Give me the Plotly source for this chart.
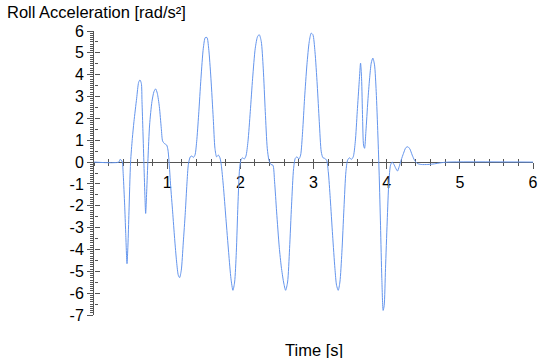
import plotly.graph_objects as go

# Time [s]
t = [0.0, 0.34, 0.355, 0.373, 0.387, 0.40, 0.419, 0.433, 0.451, 0.464, 0.478, 0.50,
     0.524, 0.546, 0.583, 0.61, 0.628, 0.647, 0.656, 0.669, 0.683, 0.697, 0.706, 0.72,
     0.738, 0.76, 0.792, 0.82, 0.842, 0.865, 0.893, 0.92, 0.938, 0.965, 0.993, 1.011,
     1.029, 1.047, 1.075, 1.102, 1.129, 1.152, 1.17, 1.193, 1.22, 1.248, 1.27, 1.29,
     1.316, 1.339, 1.357, 1.38, 1.403, 1.43, 1.462, 1.494, 1.521, 1.544, 1.567, 1.598,
     1.63, 1.653, 1.676, 1.699, 1.721, 1.74, 1.767, 1.803, 1.84, 1.872, 1.899, 1.922,
     1.945, 1.967, 1.99, 2.008, 2.031, 2.054, 2.077, 2.104, 2.136, 2.168, 2.204, 2.236,
     2.259, 2.286, 2.313, 2.341, 2.368, 2.391, 2.418, 2.445, 2.468, 2.496, 2.532, 2.56,
     2.591, 2.619, 2.646, 2.673, 2.70, 2.728, 2.751, 2.774, 2.801, 2.824, 2.851, 2.878,
     2.91, 2.942, 2.969, 2.992, 3.02, 3.051, 3.079, 3.106, 3.129, 3.152, 3.179, 3.202,
     3.229, 3.261, 3.293, 3.315, 3.338, 3.361, 3.388, 3.416, 3.443, 3.466, 3.493, 3.516,
     3.543, 3.571, 3.598, 3.625, 3.643, 3.657, 3.671, 3.684, 3.698, 3.716, 3.743, 3.766,
     3.789, 3.811, 3.834, 3.857, 3.88, 3.898, 3.916, 3.934, 3.952, 3.966, 3.984, 4.007,
     4.03, 4.053, 4.075, 4.098, 4.125, 4.148, 4.171, 4.198, 4.23, 4.262, 4.289, 4.317,
     4.349, 4.38, 4.417, 4.472, 4.563, 4.654, 4.745, 4.836, 6.0]

# Roll acceleration [rad/s^2]
roll_acc = [0.0, 0.0, 0.12, 0.09, 0.0, -0.6, -1.97, -3.2, -4.65, -3.8, -2.28, 0.0,
            1.08, 1.85, 2.92, 3.65, 3.76, 3.6, 2.77, 1.39, -0.14, -1.67, -2.35, -1.36,
            0.17, 1.7, 2.77, 3.23, 3.35, 3.15, 2.54, 1.54, 0.96, 0.84, 0.78, 0.55,
            -0.14, -1.06, -2.28, -3.5, -4.57, -5.18, -5.29, -4.95, -3.7, -2.3, -1.0, -0.1,
            0.24, 0.28, 0.21, 0.32, 0.93, 2.16, 3.84, 5.21, 5.7, 5.7, 5.21, 3.84,
            2.0, 0.63, 0.24, 0.32, 0.2, -0.14, -1.06, -2.58, -4.13, -5.34, -5.87, -5.49,
            -4.13, -1.97, -0.29, 0.09, 0.2, 0.14, 0.28, 0.93, 2.31, 3.84, 5.21, 5.75,
            5.83, 5.52, 4.3, 2.31, 0.63, 0.09, -0.11, -0.14, -0.9, -2.28, -3.9, -4.8,
            -5.49, -5.87, -5.49, -3.96, -1.97, -0.29, 0.17, 0.24, 0.14, 0.32, 1.39, 2.92,
            4.45, 5.52, 5.9, 5.83, 5.06, 3.53, 1.85, 0.47, 0.2, 0.17, 0.09, -0.44,
            -1.67, -3.35, -4.88, -5.64, -5.87, -5.49, -4.13, -2.13, -0.44, 0.09, 0.2, 0.12,
            0.24, 0.93, 2.31, 3.69, 4.53, 3.84, 2.0, 0.78, 0.63, 1.39, 2.8, 3.8,
            4.53, 4.76, 4.45, 3.23, 1.24, -0.6, -2.89, -5.34, -6.79, -6.57, -4.88, -2.74,
            -0.9, -0.14, 0.0, -0.1, -0.29, -0.41, -0.21, 0.09, 0.4, 0.66, 0.7, 0.6,
            0.32, 0.09, -0.06, -0.11, -0.11, -0.08, -0.03, 0.0, 0.0]

x_labels = [1, 2, 3, 4, 5, 6]
y_labels = [6, 5, 4, 3, 2, 1, 0, -1, -2, -3, -4, -5, -6, -7]
y_range = [-7, 6]
x_range = [0, 6]

FONT = "Arial, Liberation Sans, sans-serif"
AX = "#555555"

fig = go.Figure()
fig.add_trace(go.Scatter(x=t, y=roll_acc, mode="lines",
                         line=dict(color="#6495ED", width=1, shape="spline", smoothing=0.7),
                         hoverinfo="skip", showlegend=False))
fig.add_trace(go.Scatter(x=[], y=[], xaxis="x2", yaxis="y2", showlegend=False))

xpos = (0 - y_range[0]) / (y_range[1] - y_range[0])

fig.update_layout(
    width=540, height=358,
    margin=dict(l=94, r=7, t=31, b=43),
    paper_bgcolor="white", plot_bgcolor="white",
    font=dict(family=FONT, color="black"),
    showlegend=False,
    xaxis=dict(range=x_range, anchor="free", position=xpos, automargin=False,
               showline=True, linecolor=AX, linewidth=1, layer="below traces",
               showgrid=False, zeroline=False,
               tickmode="array", tickvals=x_labels, ticktext=[str(v) for v in x_labels],
               ticklabeloverflow="allow",
               ticks="outside", ticklen=6, tickcolor=AX, tickwidth=1,
               tickfont=dict(size=16, family=FONT, color="black"),
               minor=dict(dtick=0.2, tick0=0, ticks="outside", ticklen=3, tickcolor=AX, showgrid=False)),
    xaxis2=dict(range=x_range, overlaying="x", anchor="free", position=xpos, automargin=False,
                showline=False, showgrid=False, zeroline=False, showticklabels=False,
                layer="below traces",
                tickmode="linear", tick0=0, dtick=0.2,
                ticks="inside", ticklen=3, tickcolor=AX, tickwidth=1),
    yaxis=dict(range=y_range, anchor="x", side="left", automargin=False,
               showline=True, linecolor=AX, linewidth=1, layer="below traces",
               showgrid=False, zeroline=False,
               tickmode="array", tickvals=y_labels, ticktext=[str(v) for v in y_labels],
               ticklabeloverflow="allow",
               ticks="outside", ticklen=6, tickcolor=AX, tickwidth=1,
               tickfont=dict(size=16, family=FONT, color="black"),
               minor=dict(dtick=0.1, tick0=0, ticks="outside", ticklen=3, tickcolor=AX, showgrid=False)),
    yaxis2=dict(range=y_range, overlaying="y", anchor="free", position=0, side="left",
                automargin=False,
                showline=False, showgrid=False, zeroline=False, showticklabels=False,
                layer="below traces",
                tickmode="linear", tick0=0, dtick=1,
                ticks="inside", ticklen=5, tickcolor=AX, tickwidth=1,
                minor=dict(dtick=0.5, tick0=0, ticks="inside", ticklen=3, tickcolor=AX, showgrid=False)),
    annotations=[
        dict(text="Roll Acceleration [rad/s²]", xref="paper", yref="paper",
             x=(5 - 94) / 439, y=1 + (31 - 12) / 284, xanchor="left", yanchor="middle",
             showarrow=False, font=dict(size=16.5, family=FONT, color="black")),
        dict(text="Time [s]", xref="paper", yref="paper",
             x=0.5, y=(315 - 350) / 284, xanchor="center", yanchor="middle",
             showarrow=False, font=dict(size=16.5, family=FONT, color="black")),
    ],
)

fig.write_html("out.html",
               config={"displayModeBar": False},
               post_script="document.body.style.margin='0';document.body.style.padding='0';")
